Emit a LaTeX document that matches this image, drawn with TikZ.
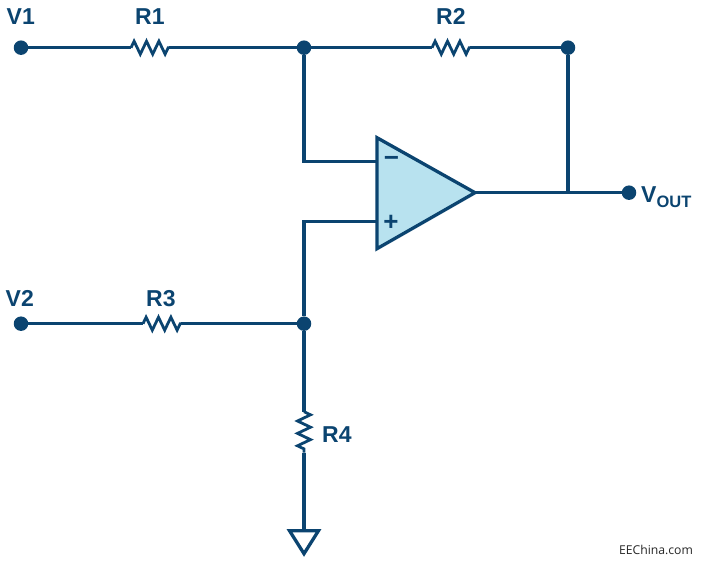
\documentclass[tikz,border=0pt]{standalone}
\usepackage{fontspec}
\setmainfont{Liberation Sans}
\newfontfamily\markfont{Open Sans}
\usetikzlibrary{decorations.pathmorphing}
\definecolor{wirecol}{HTML}{0B4470}
\definecolor{ampcol}{HTML}{B8E2EF}
\tikzset{
  wire/.style={draw=wirecol,line width=3.3pt,line join=miter},
  resistor/.style={wire,line width=2.8pt,decorate,decoration={zigzag,amplitude=6.5pt,segment length=12.4pt}},
  dot/.style={circle,fill=wirecol,inner sep=0pt,minimum size=14.5pt},
  lab/.style={text=wirecol,font=\fontsize{23}{23}\selectfont\bfseries,inner sep=0pt,anchor=base west},
  sign/.style={text=wirecol,font=\fontsize{26}{26}\selectfont\bfseries,inner sep=0pt}
}
\begin{document}
\begin{tikzpicture}[x=1pt,y=1pt]
\useasboundingbox (0,0.7) rectangle (701,562.7);
% terminals and junctions
\node[dot] (v1) at (21,515) {};
\node[dot] (j1) at (304,515) {};
\node[dot] (j2) at (568,515) {};
\node[dot] (vo) at (629,370) {};
\node[dot] (v2) at (21,239) {};
\node[dot] (j3) at (304,239) {};
% resistor ends
\coordinate (r1a) at (131,515);
\coordinate (r1b) at (169,515);
\coordinate (r2a) at (432,515);
\coordinate (r2b) at (470,515);
\coordinate (r3a) at (143,239);
\coordinate (r3b) at (181,239);
\coordinate (r4a) at (304,151);
\coordinate (r4b) at (304,110);
% amplifier
\coordinate (ampa) at (377,425);
\coordinate (ampb) at (377,314);
\coordinate (ampc) at (475,370);
\coordinate (inm) at (377,401);
\coordinate (inp) at (377,341);
\coordinate (tap) at (568,370);
% ground
\coordinate (gnd) at (304,32);
\coordinate (gnda) at (289.5,32);
\coordinate (gndb) at (318.5,32);
\coordinate (gndc) at (304,9);
% wires
\draw[wire] (v1) -- (r1a);
\draw[wire] (r1b) -- (j1);
\draw[wire] (j1) -- (r2a);
\draw[wire] (r2b) -- (j2);
\draw[wire] (j2) -- (tap);
\draw[wire] (ampc) -- (vo);
\draw[wire] (j1) |- (inm);
\draw[wire] (j3) |- (inp);
\draw[wire] (v2) -- (r3a);
\draw[wire] (r3b) -- (j3);
\draw[wire] (j3) -- (r4a);
\draw[wire] (r4b) -- (gnd);
\foreach \r in {r1,r2,r3,r4}
  \draw[resistor] (\r a) -- (\r b);
\draw[wire,fill=ampcol] (ampa) -- (ampb) -- (ampc) -- cycle;
\draw[wire] (gnda) -- (gndb) -- (gndc) -- cycle;
% labels
\node[lab] (lv1) at (6.5,538) {V1};
\node[lab] (lr1) at (135,538) {R1};
\node[lab] (lr2) at (436,538) {R2};
\node[lab] (lv2) at (5.5,256) {V2};
\node[lab] (lr3) at (146,256) {R3};
\node[lab] (lr4) at (322,120) {R4};
\node[lab] (lvo) at (641,360) {V{\fontsize{16.5}{16.5}\selectfont\raisebox{-5pt}{OUT}}};
\node[sign] (lm) at (391.5,401) {−};
\node[sign] (lp) at (391,340) {+};
\node[text=black!85,font=\markfont\fontsize{12.2}{12.2}\selectfont,inner sep=0pt] (lee) at (656,13) {EEChina.com};
\end{tikzpicture}
\end{document}
